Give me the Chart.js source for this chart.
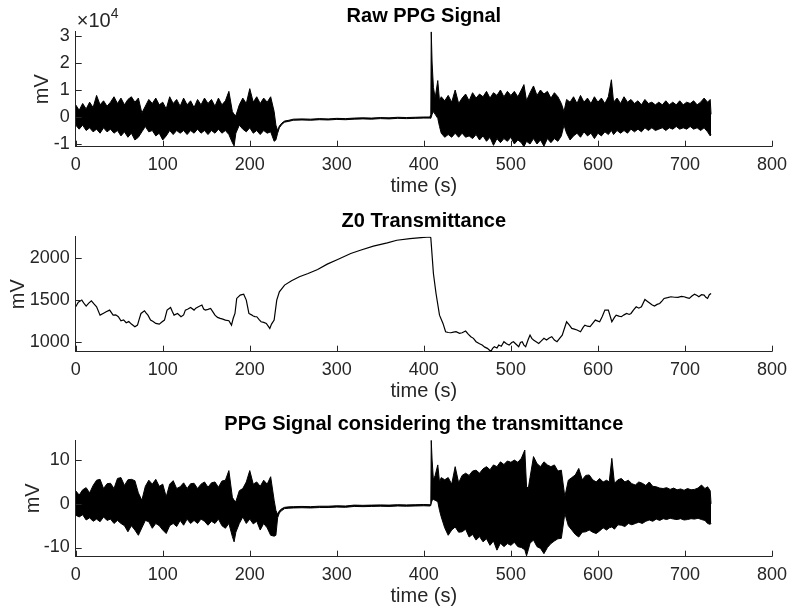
<!DOCTYPE html>
<html>
<head>
<meta charset="utf-8">
<script src="https://cdn.jsdelivr.net/npm/chart.js@4"></script>
<style>
  body { margin: 0; background: #fff; width: 795px; height: 614px; position: relative; overflow: hidden; }
  canvas { position: absolute; left: 0; }
</style>
</head>
<body>
<canvas id="c1" width="795" height="200" style="top:0px"></canvas>
<canvas id="c2" width="795" height="205" style="top:200px"></canvas>
<canvas id="c3" width="795" height="209" style="top:405px"></canvas>
<script>
// shared time axis (s)
const xTicks = [0, 100, 200, 300, 400, 500, 600, 700, 800];

// sample times of the noisy part before the flat stretch (both PPG panels)
const segA_T = [0, 4, 8, 12, 16, 20, 24, 28, 32, 36, 40, 44, 48, 52, 56, 60, 64, 68, 72, 76,
  80, 84, 88, 92, 96, 100, 104, 108, 112, 116, 120, 124, 128, 132, 136, 140, 144, 148, 152, 156,
  160, 164, 168, 172, 176, 180, 182, 184, 188, 192, 196, 200, 204, 208, 212, 216, 220, 224, 228];
// flat stretch (cuff occlusion)
const segF_T = [230, 232, 234, 237, 240, 245, 250, 260, 270, 280, 290, 300, 310, 320, 330, 340,
  350, 360, 370, 380, 390, 400, 407];

// ---- panel 1: Raw PPG Signal, upper / lower envelope, units of 10^4 mV ----
const rawTicks = [-1, 0, 1, 2, 3];
const rawHi_A = [0.45, 0.25, 0.5, 0.3, 0.55, 0.35, 0.8, 0.45, 0.6, 0.4, 0.55, 0.75, 0.5, 0.7, 0.45, 0.65, 0.75, 0.55, 0.7, 0.15,
  0.4, 0.65, 0.5, 0.7, 0.45, 0.55, 0.3, 0.75, 0.5, 0.65, 0.4, 0.7, 0.45, 0.6, 0.35, 0.65, 0.45, 0.7, 0.5, 0.65,
  0.4, 0.7, 0.45, 0.6, 0.95, 0.2, 0.1, 0.05, 0.45, 0.7, 0.5, 1.05, 0.55, 0.75, 0.5, 0.7, 0.55, 0.75, 0.2];
const rawLo_A = [-0.3, -0.45, -0.3, -0.5, -0.4, -0.55, -0.45, -0.6, -0.4, -0.55, -0.45, -0.6, -0.5, -0.7, -0.55, -0.75, -0.6, -0.85, -0.75, -0.55,
  -0.35, -0.55, -0.5, -0.7, -0.6, -0.85, -0.7, -0.5, -0.65, -0.5, -0.6, -0.5, -0.65, -0.5, -0.6, -0.45, -0.6, -0.5, -0.65, -0.5,
  -0.6, -0.45, -0.6, -0.5, -0.65, -0.95, -1.07, -0.6, -0.3, -0.45, -0.55, -0.4, -0.6, -0.5, -0.65, -0.5, -0.6, -0.55, -0.9];
const rawHi_F = [-0.3, -0.5, -0.33, -0.22, -0.15, -0.12, -0.08, -0.07, -0.08, -0.06, -0.07, -0.05, -0.06, -0.04, -0.03, -0.04,
  -0.02, -0.03, -0.01, -0.02, -0.01, 0, 0];
const rawLo_F = [-0.85, -0.6, -0.4, -0.27, -0.19, -0.16, -0.12, -0.11, -0.12, -0.1, -0.11, -0.09, -0.1, -0.08, -0.07, -0.08,
  -0.06, -0.07, -0.05, -0.06, -0.05, -0.04, -0.04];
const rawT_B = [408, 408.5, 409.5, 411, 413, 416, 418, 420,
  424, 428, 432, 436, 440, 444, 448, 452, 456, 460, 464, 468,
  472, 476, 480, 484, 488, 492, 496, 500, 504, 508, 512,
  515, 518, 522, 526, 530, 534, 538, 542, 546, 550, 554, 558,
  561, 564, 568, 572, 576, 580, 584, 588, 592, 596, 600, 604, 608, 612,
  615.5, 618, 622, 626, 630, 634, 638, 642, 646, 650, 654, 658,
  662, 666, 670, 674, 678, 682, 686, 690, 694, 698, 702, 706,
  710, 714, 718, 722, 726, 729, 730];
const rawHi_B = [0.1, 3.16, 2.0, 1.1, 0.7, 1.35, 0.6, 0.75,
  0.6, 0.8, 0.55, 1.0, 0.5, 0.7, 0.85, 0.6, 0.9, 0.7, 0.85, 0.75,
  0.95, 0.7, 0.9, 0.8, 1.0, 0.75, 0.95, 0.8, 0.95, 0.75, 1.0,
  1.2, 0.6, 0.9, 1.15, 0.8, 1.0, 0.85, 0.95, 0.7, 0.9, 0.75, 0.5,
  0.2, 0.65, 0.55, 0.75, 0.5, 0.8, 0.55, 0.7, 0.5, 0.75, 0.55, 0.7, 0.5, 0.75,
  1.38, 0.55, 0.7, 0.5, 0.75, 0.55, 0.65, 0.5, 0.6, 0.45, 0.65, 0.5,
  0.55, 0.45, 0.55, 0.45, 0.6, 0.45, 0.55, 0.45, 0.6, 0.45, 0.55, 0.5,
  0.6, 0.45, 0.55, 0.7, 0.55, 0.65, 0.1];
const rawLo_B = [-0.05, 0, 0.1, 0.2, 0.1, -0.05, -0.35, -0.6,
  -0.75, -0.65, -0.75, -0.6, -0.75, -0.6, -0.75, -0.7, -0.8, -0.65, -0.85, -0.7,
  -0.9, -0.75, -1.05, -0.8, -0.95, -0.8, -0.9, -0.75, -1.0, -0.85, -0.95,
  -1.1, -0.9, -1.0, -0.8, -1.0, -0.85, -1.08, -0.8, -0.95, -0.8, -0.9, -0.7,
  -0.3, -0.6, -0.85, -0.7, -0.6, -0.75, -0.55, -0.7, -0.6, -0.8, -0.6, -0.7, -0.55, -0.65,
  -0.5, -0.65, -0.5, -0.6, -0.5, -0.6, -0.45, -0.55, -0.45, -0.55, -0.4, -0.5,
  -0.4, -0.5, -0.45, -0.4, -0.5, -0.4, -0.45, -0.35, -0.45, -0.4, -0.45, -0.35,
  -0.45, -0.4, -0.5, -0.4, -0.55, -0.7, -0.65];

// ---- panel 2: Z0 Transmittance (mV) ----
const z0Ticks = [1000, 1500, 2000];
const z0T = [0, 3, 7, 10, 12, 15, 18, 21, 24, 28, 32, 35,
  39, 43, 46, 49, 52, 55, 58, 61, 64, 68, 71, 73,
  75, 79, 81, 83, 86, 89, 92, 96, 99, 102, 105, 109,
  111, 113, 117, 121, 124, 126, 129, 132, 136, 138, 141, 145,
  147, 149, 152, 155, 158, 160, 163, 166, 169, 172, 176, 179,
  181, 183, 185, 189, 193, 196, 199, 202, 204, 206, 208, 211,
  213, 216, 219, 223, 225, 228, 231, 234, 240, 248, 257, 267,
  278, 289, 301, 316, 327, 342, 358, 369, 384, 400, 407, 408,
  411, 414, 418, 422, 425, 428, 431, 434, 437, 441, 444, 448,
  451, 454, 457, 460, 464, 467, 470, 473, 477, 479, 481, 484,
  486, 489, 492, 495, 498, 501, 503, 506, 509, 511, 513, 515,
  517, 520, 522, 524, 526, 529, 532, 535, 538, 541, 544, 547,
  550, 553, 556, 559, 564, 567, 570, 573, 576, 580, 583, 585,
  588, 591, 594, 597, 600, 602, 605, 608, 612, 616, 619, 621,
  624, 627, 630, 633, 636, 638, 641, 644, 647, 650, 654, 657,
  659, 662, 665, 668, 671, 674, 676, 680, 684, 688, 692, 696,
  699, 702, 705, 708, 711, 714, 716, 719, 722, 724, 726, 728, 730];
const z0V = [1417, 1470, 1496, 1450, 1425, 1460, 1488, 1450, 1417, 1317, 1340, 1357,
  1377, 1317, 1320, 1298, 1250, 1260, 1226, 1240, 1210, 1179, 1198, 1270,
  1337, 1369, 1340, 1317, 1258, 1240, 1218, 1210, 1235, 1258, 1377, 1409,
  1360, 1317, 1337, 1298, 1320, 1377, 1390, 1409, 1377, 1400, 1417, 1437,
  1390, 1377, 1385, 1397, 1350, 1317, 1290, 1278, 1270, 1258, 1250, 1198,
  1280, 1337, 1516, 1556, 1567, 1496, 1337, 1320, 1306, 1300, 1298, 1260,
  1238, 1230, 1218, 1159, 1210, 1258, 1496, 1595, 1675, 1726, 1774, 1813,
  1861, 1925, 1980, 2052, 2091, 2139, 2179, 2210, 2230, 2245, 2250, 2240,
  1813, 1575, 1317, 1218, 1119, 1110, 1107, 1115, 1119, 1100, 1107, 1127,
  1090, 1060, 1040, 1000, 975, 960, 935, 921, 883, 920, 940, 925,
  960, 945, 1000, 975, 960, 990, 1000, 970, 940, 990, 1000, 960,
  940, 1030, 1079, 1040, 1020, 1000, 980, 1010, 1040, 1020, 1045, 1060,
  1020, 1000, 1040, 1079, 1238, 1200, 1159, 1150, 1139, 1119, 1170, 1198,
  1185, 1179, 1220, 1258, 1245, 1238, 1300, 1377, 1377, 1238, 1290, 1317,
  1305, 1298, 1320, 1337, 1325, 1337, 1380, 1417, 1400, 1417, 1504, 1480,
  1464, 1440, 1425, 1445, 1456, 1490, 1516, 1525, 1536, 1530, 1528, 1540,
  1536, 1525, 1516, 1545, 1567, 1550, 1536, 1560, 1556, 1530, 1516, 1560, 1575];

// ---- panel 3: PPG Signal considering the transmittance (mV) ----
const ppgTicks = [-10, 0, 10];
const ppgHi_A = [3.0, 2.0, 3.2, 3.7, 2.5, 4.2, 5.4, 5.6, 3.5, 4.6, 4.7, 3.5, 5.8, 6.0, 4.2, 5.5, 5.6, 5.3, 2.5, 0.8,
  4.0, 5.4, 4.5, 5.6, 4.0, 4.5, 1.6, 4.5, 5.3, 3.5, 3.9, 4.8, 3.5, 4.6, 4.7, 3.5, 4.5, 5.0, 3.8, 4.8,
  5.0, 3.8, 5.2, 5.4, 7.6, 1.5, 0.8, 0.5, 3.0, 3.5, 5.0, 7.6, 4.5, 5.0, 4.0, 5.4, 4.5, 6.2, 0.8];
const ppgLo_A = [-2.6, -3.0, -2.5, -3.7, -3.2, -4.0, -3.5, -4.1, -3.0, -3.8, -3.5, -4.5, -3.8, -4.5, -5.0, -6.4, -5.0, -6.0, -7.2, -5.5,
  -3.8, -4.1, -5.6, -4.5, -5.0, -6.0, -6.8, -5.0, -4.5, -5.2, -3.8, -4.9, -3.5, -4.5, -3.8, -4.5, -3.5, -4.0, -4.9, -4.0,
  -4.5, -3.5, -5.0, -5.6, -4.5, -7.5, -8.7, -6.5, -4.5, -3.0, -4.5, -3.5, -4.6, -4.0, -6.0, -4.5, -5.5, -7.2, -7.4];
const ppgHi_F = [-1.5, -2.4, -1.6, -1.1, -0.8, -0.7, -0.65, -0.6, -0.65, -0.55, -0.55, -0.45, -0.5, -0.3, -0.35, -0.3,
  -0.25, -0.3, -0.2, -0.25, -0.2, -0.15, -0.2];
const ppgLo_F = [-7.2, -3.2, -2.1, -1.5, -1.1, -1.0, -0.95, -0.9, -0.95, -0.85, -0.85, -0.75, -0.8, -0.6, -0.65, -0.6,
  -0.55, -0.6, -0.5, -0.55, -0.5, -0.45, -0.5];
const ppgT_B = [408, 408.5, 409.5, 411, 413, 416, 418, 420,
  424, 428, 432, 436, 440, 444, 448, 452, 456, 460, 464, 468,
  472, 476, 480, 484, 488, 492, 496, 500, 504, 508, 512,
  516, 518, 520, 522, 526, 530, 534, 538, 542, 546, 550, 554, 558,
  562, 566, 570, 574, 578, 582, 586, 590, 594, 598, 602, 606, 610, 613,
  616, 619, 623, 627, 631, 635, 639, 643, 647, 651, 655, 659,
  663, 667, 671, 675, 679, 683, 687, 691, 695, 699, 703, 707,
  711, 715, 719, 723, 726, 729, 730];
const ppgHi_B = [0.0, 14.5, 10.0, 5.5, 6.5, 8.9, 5.0, 6.0,
  5.5, 6.0, 4.5, 8.5, 4.8, 6.5, 7.0, 6.5, 7.5, 7.7, 7.0, 8.0,
  8.5, 7.8, 8.9, 8.5, 9.6, 9.0, 9.8, 9.5, 10.0, 9.5, 10.4,
  12.3, 4.0, 3.5, 6.0, 10.8, 9.2, 8.5, 9.6, 8.9, 8.5, 8.9, 7.5, 7.7,
  1.6, 5.4, 6.0, 6.6, 8.1, 5.5, 6.5, 6.6, 5.5, 5.0, 5.8, 5.0, 5.4, 5.0,
  10.4, 4.7, 5.5, 5.8, 5.0, 5.4, 4.6, 4.3, 5.0, 4.7, 4.2, 5.0,
  4.0, 3.9, 3.6, 3.5, 3.7, 3.3, 3.6, 3.2, 3.4, 3.1, 3.5, 3.2,
  3.3, 3.6, 4.3, 3.5, 3.9, 3.0, 0.0];
const ppgLo_B = [-0.4, 0.2, 0.8, 1.0, 0.8, 0.5, -1.5, -3.0,
  -5.5, -7.2, -6.0, -5.3, -6.5, -6.4, -5.8, -7.6, -7.0, -8.3, -7.5, -8.7,
  -8.0, -9.5, -8.5, -10.6, -9.0, -9.8, -9.1, -9.5, -8.8, -9.8, -10.0,
  -10.5, -11.9, -10.5, -9.0, -8.3, -9.8, -10.2, -11.4, -10.0, -9.1, -8.5, -8.0, -7.9,
  -2.2, -5.0, -6.0, -7.0, -7.6, -6.5, -6.4, -6.0, -6.5, -6.8, -6.2, -5.5, -6.0, -5.5,
  -5.3, -5.8, -4.8, -4.9, -5.2, -4.5, -4.8, -4.5, -4.2, -4.5, -4.0, -3.7,
  -4.0, -3.5, -3.8, -3.4, -3.6, -3.3, -3.5, -3.6, -3.4, -3.7, -3.6, -3.4,
  -3.5, -3.3, -3.6, -3.8, -4.5, -4.7, -4.5];

const TXT = '#262626';
const FAM = "'Liberation Sans', Arial, Helvetica, sans-serif";
Chart.defaults.font.family = FAM;
Chart.defaults.color = TXT;

const toXY = (ts, vs) => ts.map((t, i) => ({ x: t, y: vs[i] }));

// MATLAB-style ticks pointing into the axes
const inwardTicks = {
  id: 'inwardTicks',
  afterDraw(chart) {
    const { ctx, chartArea: a, scales: { x, y } } = chart;
    ctx.save();
    ctx.strokeStyle = TXT;
    ctx.lineWidth = 1;
    ctx.beginPath();
    x.ticks.forEach(t => {
      const px = Math.round(x.getPixelForValue(t.value)) + 0.5;
      ctx.moveTo(px, a.bottom);
      ctx.lineTo(px, a.bottom - 6);
    });
    y.ticks.forEach(t => {
      const py = Math.round(y.getPixelForValue(t.value)) + 0.5;
      ctx.moveTo(a.left, py);
      ctx.lineTo(a.left + 6, py);
    });
    ctx.stroke();
    ctx.restore();
  }
};

// the "x10^4" exponent over the first y axis
const expLabel = {
  id: 'expLabel',
  afterDraw(chart) {
    const { ctx, chartArea: a } = chart;
    ctx.save();
    ctx.fillStyle = TXT;
    ctx.textBaseline = 'alphabetic';
    ctx.font = '20px ' + FAM;
    ctx.fillText('\u00d710', a.left + 1, 27);
    const w = ctx.measureText('\u00d710').width;
    ctx.font = '14px ' + FAM;
    ctx.fillText('4', a.left + 1 + w, 18);
    ctx.restore();
  }
};

function bandSets(ts, hi, lo) {
  return [
    { data: toXY(ts, hi), borderColor: '#000', borderWidth: 1, fill: false },
    { data: toXY(ts, lo), borderColor: '#000', borderWidth: 1, fill: '-1', backgroundColor: '#000' }
  ];
}

function panel(id, h, p) {
  return new Chart(document.getElementById(id), {
    type: 'line',
    data: { datasets: p.datasets },
    options: {
      responsive: false,
      animation: false,
      events: [],
      layout: { padding: { left: 0, right: 16.3, top: 0, bottom: 0 } },
      elements: { point: { radius: 0 }, line: { tension: 0 } },
      plugins: {
        legend: { display: false },
        tooltip: { enabled: false },
        title: {
          display: true, text: p.title, fullSize: false, color: '#000',
          font: { size: 20, weight: 'bold' },
          padding: { top: p.titleTop, bottom: p.titleBottom }
        }
      },
      scales: {
        x: {
          type: 'linear', min: 0, max: 800,
          grid: { display: false, drawTicks: false },
          border: { color: TXT, width: 1 },
          afterBuildTicks: s => { s.ticks = xTicks.map(v => ({ value: v })); },
          ticks: { font: { size: 18 }, color: TXT, padding: 8, maxRotation: 0, autoSkip: false, callback: v => String(v) },
          title: { display: true, text: 'time (s)', font: { size: 20 }, color: TXT, padding: { top: 0, bottom: p.xTitleBottom } },
          afterFit: s => { s.height = h - p.bottom; }
        },
        y: {
          type: 'linear', min: p.ymin, max: p.ymax,
          grid: { display: false, drawTicks: false },
          border: { color: TXT, width: 1 },
          afterBuildTicks: s => { s.ticks = p.yTicks.map(v => ({ value: v })); },
          ticks: { font: { size: 18 }, color: TXT, padding: 6, callback: v => String(v) },
          title: { display: true, text: 'mV', font: { size: 20 }, color: TXT, padding: { top: p.yTitleLeft, bottom: 0 } },
          afterFit: s => { s.width = 75.7; }
        }
      }
    },
    plugins: [inwardTicks].concat(p.extra || [])
  });
}

panel('c1', 200, {
  title: 'Raw PPG Signal', titleTop: 4, titleBottom: 3.7, bottom: 146.7, xTitleBottom: 2, yTitleLeft: 30,
  ymin: -1.1, ymax: 3.16, yTicks: rawTicks, extra: [expLabel],
  datasets: bandSets(segA_T.concat(segF_T, rawT_B), rawHi_A.concat(rawHi_F, rawHi_B), rawLo_A.concat(rawLo_F, rawLo_B))
});

panel('c2', 205, {
  title: 'Z0 Transmittance', titleTop: 9, titleBottom: 3.7, bottom: 151.7, xTitleBottom: 2, yTitleLeft: 6.3,
  ymin: 881, ymax: 2252, yTicks: z0Ticks,
  datasets: [{ data: toXY(z0T, z0V), borderColor: '#000', borderWidth: 1.2, fill: false }]
});

panel('c3', 209, {
  title: 'PPG Signal considering the transmittance', titleTop: 7, titleBottom: 4, bottom: 151.7, xTitleBottom: 6, yTitleLeft: 21,
  ymin: -12.1, ymax: 14.6, yTicks: ppgTicks,
  datasets: bandSets(segA_T.concat(segF_T, ppgT_B), ppgHi_A.concat(ppgHi_F, ppgHi_B), ppgLo_A.concat(ppgLo_F, ppgLo_B))
});
</script>
</body>
</html>
